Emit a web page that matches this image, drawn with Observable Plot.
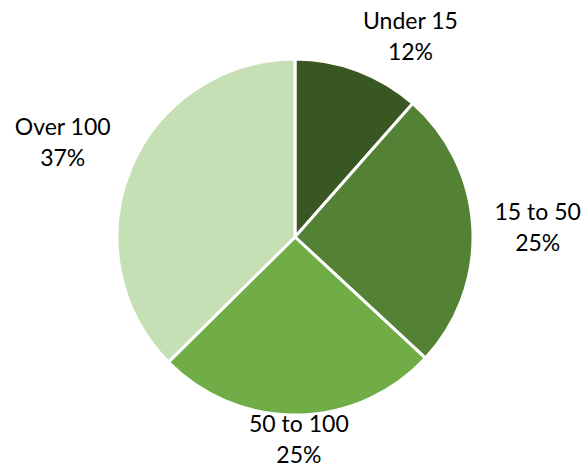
<!DOCTYPE html>
<html><head><meta charset="utf-8">
<script src="https://cdn.jsdelivr.net/npm/d3@7"></script>
<script src="https://cdn.jsdelivr.net/npm/@observablehq/plot@0.6"></script>
<style>html,body{margin:0;padding:0;background:#fff}</style>
</head><body><div id="chart"></div>
<script>
// Data
const categories = ["Under 15", "15 to 50", "50 to 100", "Over 100"];
const shares = [11.5, 25.4, 25.7, 37.4];
const percentLabels = ["12%", "25%", "25%", "37%"];
const colors = ["#385723", "#548235", "#70AD47", "#C5E0B4"];

// Layout constants
const W = 584, H = 469, CX = 295, CY = 237, R = 178;
const FONT = "Lato, 'Open Sans', sans-serif", FS = 23, LH = 31;
const PADX = 12, GAP = 8, BOXH = 56, MARGIN_TOP = 6, MARGIN_BOTTOM = 4;

const data = categories.map((c, i) => ({category: c, share: shares[i], pct: percentLabels[i]}));
const arcs = d3.pie().sort(null).value(d => d.share)(data);
const color = Plot.scale({color: {type: "ordinal", domain: categories, range: colors}});

const ctx = document.createElement("canvas").getContext("2d");
ctx.font = `${FS}px Lato`;
function place(a, lines) {
  const w = Math.max(...lines.map(t => ctx.measureText(t).width)) + 2 * PADX;
  const h = BOXH;
  const s = Math.sin(a), c = Math.cos(a);
  const dist = R + GAP + Math.abs(s) * w / 2 + Math.abs(c) * h / 2;
  let x = CX + dist * s, y = CY - dist * c;
  const top = MARGIN_TOP + h / 2, bottom = H - MARGIN_BOTTOM - h / 2;
  if (y < top || y > bottom) {
    const yc = Math.min(bottom, Math.max(top, y));
    if (Math.abs(s) > 0.1) {
      const dy = yc - CY;
      x = CX + Math.sign(s) * Math.sqrt(Math.max(0, dist * dist - dy * dy));
    }
    y = yc;
  }
  return {x, y};
}

const labels = arcs.map(a => {
  const mid = (a.startAngle + a.endAngle) / 2;
  const p = place(mid, [a.data.category, a.data.pct]);
  return {lx: p.x, ly: p.y, label: a.data.category + "\n" + a.data.pct};
});

const arcGen = d3.arc().innerRadius(0).outerRadius(R);
function pieMark(index, scales) {
  const g = d3.create("svg:g").attr("transform", `translate(${scales.x(CX)},${scales.y(CY)})`);
  g.selectAll("path").data(arcs).join("path")
    .attr("d", arcGen)
    .attr("fill", d => color.apply(d.data.category))
    .attr("stroke", "#fff")
    .attr("stroke-width", 3)
    .attr("stroke-linejoin", "round");
  return g.node();
}

const chart = Plot.plot({
  width: W, height: H, margin: 0,
  x: {type: "identity", axis: null},
  y: {type: "identity", axis: null},
  style: {background: "#fff", fontFamily: FONT},
  marks: [
    pieMark,
    Plot.text(labels, {x: "lx", y: "ly", text: "label", fontSize: FS, lineHeight: LH / FS,
      lineAnchor: "middle", textAnchor: "middle", fill: "#000", fontFamily: FONT})
  ]
});
document.getElementById("chart").appendChild(chart);
</script>
</body></html>
